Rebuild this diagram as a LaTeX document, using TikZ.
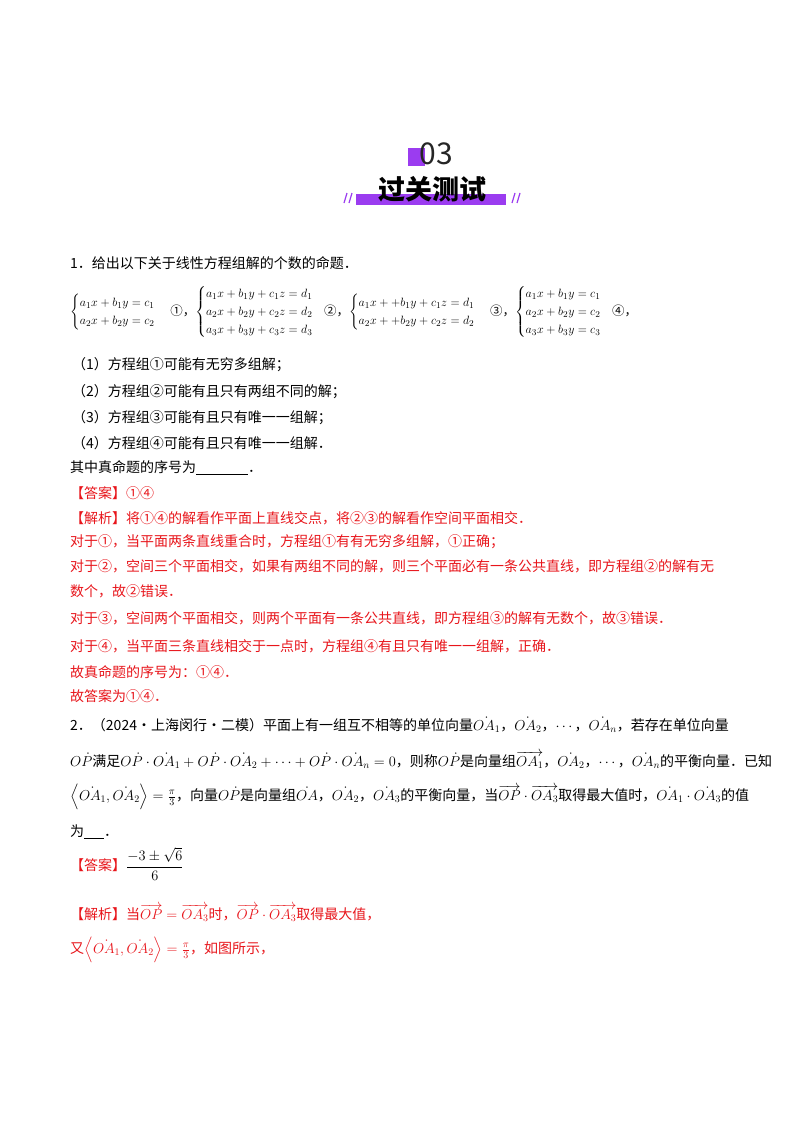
\documentclass[tikz,border=0pt]{standalone}
\usepackage{fontspec}
\usepackage{amsmath}
\setmainfont{Noto Sans CJK SC}
\definecolor{ansred}{HTML}{E8151B}
\definecolor{purp}{HTML}{9B3CF0}
\tikzset{t/.style={anchor=west,inner sep=0pt,font=\fontsize{14}{15}\selectfont},
r/.style={t,text=ansred}}
\newcommand{\va}[1]{\overrightarrow{#1}}
\begin{document}
\begin{tikzpicture}[x=1pt,y=-1pt]
\useasboundingbox[fill=white] (0,0) rectangle (800,1132);
% header
\fill[purp] (408,148) rectangle (425,166);
\node[inner sep=0pt,font=\fontsize{30}{30}\selectfont,text=black!85] (num) at (436,154) {03};
\fill[purp] (356,194) rectangle (506,205);
\node[inner sep=0pt,font=\fontsize{27}{27}\selectfont\bfseries] (title) at (432,189) {过关测试};
\foreach \x in {344,349,512,517}{\draw[purp,line width=1.2pt] (\x,203) -- (\x+3,193);}
% problem 1
\node[t] (p1) at (70,263) {1．给出以下关于线性方程组解的个数的命题．};
\node[t,font=\fontsize{12.5}{15}\selectfont] (eqs) at (70,312) {$\begin{cases}a_1x+b_1y=c_1\\ a_2x+b_2y=c_2\end{cases}$\,①，$\begin{cases}a_1x+b_1y+c_1z=d_1\\ a_2x+b_2y+c_2z=d_2\\ a_3x+b_3y+c_3z=d_3\end{cases}$\!②，$\begin{cases}a_1x++b_1y+c_1z=d_1\\ a_2x++b_2y+c_2z=d_2\end{cases}$\,③，$\begin{cases}a_1x+b_1y=c_1\\ a_2x+b_2y=c_2\\ a_3x+b_3y=c_3\end{cases}$\!④，};
\node[t] (s1) at (72,365) {（1）方程组①可能有无穷多组解；};
\node[t] (s2) at (72,392) {（2）方程组②可能有且只有两组不同的解；};
\node[t] (s3) at (72,418) {（3）方程组③可能有且只有唯一一组解；};
\node[t] (s4) at (72,443) {（4）方程组④可能有且只有唯一一组解．};
\node[t] (q1) at (70,468) {其中真命题的序号为\underline{\hspace{52pt}}．};
\node[r] (a1) at (70,493) {【答案】①④};
\node[r] (j1) at (70,518) {【解析】将①④的解看作平面上直线交点，将②③的解看作空间平面相交．};
\node[r] (l1) at (70,542) {对于①，当平面两条直线重合时，方程组①有有无穷多组解，①正确；};
\node[r] (l2) at (70,566) {对于②，空间三个平面相交，如果有两组不同的解，则三个平面必有一条公共直线，即方程组②的解有无};
\node[r] (l3) at (70,591) {数个，故②错误．};
\node[r] (l4) at (70,618) {对于③，空间两个平面相交，则两个平面有一条公共直线，即方程组③的解有无数个，故③错误．};
\node[r] (l5) at (70,646) {对于④，当平面三条直线相交于一点时，方程组④有且只有唯一一组解，正确．};
\node[r] (l6) at (70,672) {故真命题的序号为：①④．};
\node[r] (l7) at (70,696) {故答案为①④．};
% problem 2
\node[t] (p2) at (70,725) {2．（2024·上海闵行·二模）平面上有一组互不相等的单位向量$\dot{OA_1}$，$\dot{OA_2}$，$\cdots$，$\dot{OA_n}$，若存在单位向量};
\node[t] (p2b) at (70,760) {$O\dot P$满足$O\dot P\cdot \dot{OA_1}+O\dot P\cdot \dot{OA_2}+\cdots+O\dot P\cdot \dot{OA_n}=0$，则称$O\dot P$是向量组$\va{OA_1}$，$\dot{OA_2}$，$\cdots$，$\dot{OA_n}$的平衡向量．已知};
\node[t] (p2c) at (70,797) {$\left\langle \dot{OA_1},\dot{OA_2}\right\rangle=\frac{\pi}{3}$，向量$O\dot P$是向量组$\dot{OA}$，$\dot{OA_2}$，$\dot{OA_3}$的平衡向量，当$\va{OP}\cdot\va{OA_3}$取得最大值时，$\dot{OA_1}\cdot\dot{OA_3}$的值};
\node[t] (p2d) at (70,832) {为\underline{\hspace{20pt}}．};
\node[r] (a2) at (70,864) {【答案】\textcolor{black}{$\dfrac{-3\pm\sqrt6}{6}$}};
\node[r] (j2) at (70,913) {【解析】当$\va{OP}=\va{OA_3}$时，$\va{OP}\cdot\va{OA_3}$取得最大值，};
\node[r] (j3) at (70,950) {又$\left\langle \dot{OA_1},\dot{OA_2}\right\rangle=\frac{\pi}{3}$，如图所示，};
\end{tikzpicture}
\end{document}
